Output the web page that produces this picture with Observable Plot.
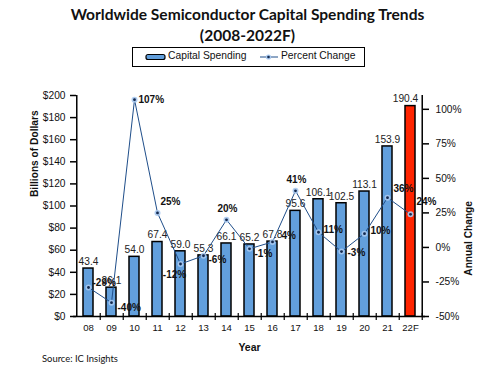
<!DOCTYPE html>
<html>
<head>
<meta charset="utf-8">
<script src="https://cdn.jsdelivr.net/npm/d3@7"></script>
<script src="https://cdn.jsdelivr.net/npm/@observablehq/plot@0.6"></script>
<style>
  html, body { margin: 0; padding: 0; background: #fff; }
  #wrap { position: relative; width: 495px; height: 375px; overflow: hidden; font-family: "Liberation Sans", Arial, sans-serif; }
  .title { position: absolute; left: 0; width: 495px; text-align: center; font-family: Lato, "Open Sans", sans-serif; font-weight: 700; color: #111; white-space: nowrap; line-height: 1; }
  #legend { position: absolute; left: 132px; top: 47px; width: 231px; height: 18px; border: 1.5px solid #000; background: #fff; }
  .ltext { position: absolute; top: 2px; font-size: 10.3px; color: #111; white-space: nowrap; }
  #chart { position: absolute; left: 0; top: 70px; }
  #source { position: absolute; left: 42px; top: 353px; font-family: Lato, "Open Sans", sans-serif; font-size: 10.5px; color: #111; white-space: nowrap; }
</style>
</head>
<body>
<div id="wrap">
  <div class="title" id="t1" style="top:7px;font-size:16px">Worldwide Semiconductor Capital Spending Trends</div>
  <div class="title" id="t2" style="top:28px;font-size:16px">(2008-2022F)</div>
  <div id="legend">
    <svg width="231" height="18" style="position:absolute;left:0;top:0">
      <rect x="13" y="6.5" width="19" height="5" rx="2" fill="#629fdc" stroke="#000" stroke-width="1.2"></rect>
      <line x1="127" x2="145" y1="9" y2="9" stroke="#1f4e8a" stroke-width="1"></line>
      <circle cx="135.5" cy="9" r="2.6" fill="#a9c9ef"></circle>
      <circle cx="135.5" cy="9" r="1.3" fill="#13294f"></circle>
    </svg>
    <span class="ltext" style="left:35px">Capital Spending</span>
    <span class="ltext" style="left:148px">Percent Change</span>
  </div>
  <div id="chart"></div>
  <div id="source">Source: IC Insights</div>
</div>
<script>
const years = ["08","09","10","11","12","13","14","15","16","17","18","19","20","21","22F"];
const spending = [43.4, 26.1, 54.0, 67.4, 59.0, 55.3, 66.1, 65.2, 67.8, 95.6, 106.1, 102.5, 113.1, 153.9, 190.4];
const pctChange = [-29, -40, 107, 25, -12, -6, 20, -1, 4, 41, 11, -3, 10, 36, 24];
const dollarTicks = [0, 20, 40, 60, 80, 100, 120, 140, 160, 180, 200];
const pctTicks = [-50, -25, 0, 25, 50, 75, 100];
const forecastYear = "22F";

// right axis domain [-50, 110] shares the left axis range [0, 200]
const pctMin = -50, pctMax = 110, dollarMax = 200;
const toDollar = p => (p - pctMin) * dollarMax / (pctMax - pctMin);
const toPct = d => d * (pctMax - pctMin) / dollarMax + pctMin;

const data = years.map((year, i) => ({year, spend: spending[i], pct: pctChange[i]}));

const W = 495, H = 300, ML = 73, MR = 70, MT = 25, MB = 54;
const step = (W - ML - MR) / years.length;

const blue = "#629fdc", red = "#ff2400", lineColor = "#1f4e8a";

// label placement for the percent labels: [dx, dy, anchor]
const place = {
  "08": [4, -5, "start"], "09": [6, 5, "start"], "10": [4, 0, "start"], "11": [3, -11, "start"],
  "12": [-6, 11, "middle"], "13": [5, 4, "start"], "14": [1, -11, "middle"], "15": [5, 5, "start"],
  "16": [9, -6, "start"], "17": [1, -11, "middle"], "18": [5, -2, "start"], "19": [6, 1, "start"],
  "20": [6, -3, "start"], "21": [6, -9, "start"], "22F": [6, -12, "start"]
};

const pctLabels = data.map(d => {
  const [dx, dy, anchor] = place[d.year];
  return Plot.text([d], {x: "year", y: r => toDollar(r.pct), text: r => r.pct + "%", dx, dy, textAnchor: anchor,
    fontSize: 10, fontWeight: "bold", fill: "#111"});
});

const chart = Plot.plot({
  width: W, height: H,
  marginLeft: ML, marginRight: MR, marginTop: MT, marginBottom: MB,
  x: {type: "band", domain: years, paddingInner: 0.57, paddingOuter: 0.285},
  y: {domain: [0, dollarMax]},
  color: {type: "identity"},
  style: {fontFamily: "'Liberation Sans', Arial, sans-serif", background: "transparent", overflow: "visible", color: "#111"},
  marks: [
    Plot.barY(data, {x: "year", y: "spend", fill: d => d.year === forecastYear ? red : blue, stroke: "#000", strokeWidth: 1.5}),
    Plot.text(data.filter(d => d.year !== forecastYear), {x: "year", y: "spend", text: d => d.spend.toFixed(1), dy: -7, fontSize: 10.2, fill: "#222"}),
    Plot.text(data.filter(d => d.year === forecastYear), {x: "year", y: "spend", text: d => d.spend.toFixed(1), dy: -7, dx: -5, fontSize: 10.2, fill: "#222"}),
    Plot.line(data, {x: "year", y: d => toDollar(d.pct), stroke: lineColor, strokeWidth: 1}),
    Plot.dot(data, {x: "year", y: d => toDollar(d.pct), r: 3, fill: "#a9c9ef", fillOpacity: 0.9}),
    Plot.dot(data, {x: "year", y: d => toDollar(d.pct), r: 1.4, fill: "#13294f"}),
    ...pctLabels,
    // axis lines
    Plot.ruleY([0], {stroke: "#000", strokeWidth: 1.5}),
    Plot.ruleX([years[0]], {dx: -step / 2, y1: 0, y2: dollarMax, stroke: "#000", strokeWidth: 1.5}),
    Plot.ruleX([years[years.length - 1]], {dx: step / 2, y1: 0, y2: dollarMax, stroke: "#000", strokeWidth: 1.5}),
    // left axis
    Plot.axisY(dollarTicks, {anchor: "left", tickFormat: d => "$" + d, tickSize: 6, dx: 3, tickPadding: 5,
      fontSize: 10.2, label: null, stroke: "#000", strokeWidth: 1.5}),
    // right axis
    Plot.axisY(pctTicks.map(toDollar), {anchor: "right", tickFormat: d => Math.round(toPct(d)) + "%", tickSize: 6, dx: -3, tickPadding: 7,
      fontSize: 10.2, label: null, stroke: "#000", strokeWidth: 1.5}),
    // x ticks between categories
    Plot.axisX({tickSize: 7, dx: step / 2, dy: -3, tickFormat: () => "", label: null, stroke: "#000", strokeWidth: 1.2}),
    // x labels
    Plot.axisX({tickSize: 0, tickPadding: 8, fontSize: 9.6, label: null}),
    // axis titles
    Plot.text(["Billions of Dollars"], {frameAnchor: "left", dx: -39, dy: -9, rotate: -90, fontSize: 10.2, fontWeight: "bold", fill: "#111"}),
    Plot.text(["Annual Change"], {frameAnchor: "right", dx: 43, dy: -5, rotate: -90, fontSize: 10.2, fontWeight: "bold", fill: "#111"}),
    Plot.text(["Year"], {frameAnchor: "bottom", dy: 34, fontSize: 10.5, fontWeight: "bold", fill: "#111"})
  ]
});
document.getElementById("chart").appendChild(chart);

// fit title width to the reference span
function fitWidth(id, target) {
  const el = document.getElementById(id);
  const range = document.createRange();
  range.selectNodeContents(el);
  const w = range.getBoundingClientRect().width;
  const fs = parseFloat(getComputedStyle(el).fontSize);
  el.style.fontSize = (fs * target / w) + "px";
}
fitWidth("t1", 354);
fitWidth("source", 76);
document.getElementById("t2").style.fontSize = document.getElementById("t1").style.fontSize;
</script>
</body>
</html>
